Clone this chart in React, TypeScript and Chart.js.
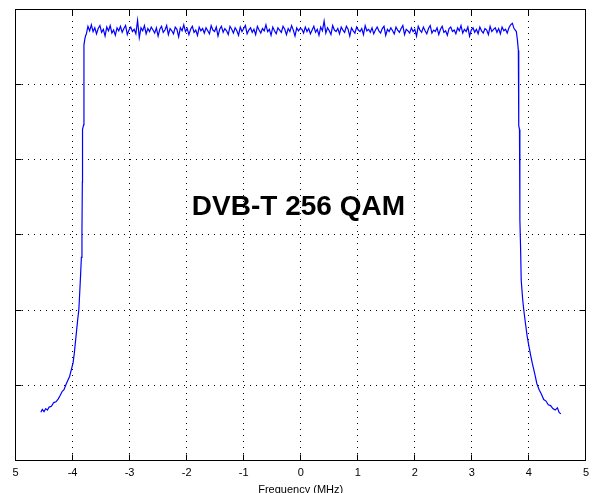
import React, { useEffect, useRef } from "react";
import { Chart, registerables } from "chart.js";

Chart.register(...registerables);

// Tick values / labels
const xTickValues = [-5, -4, -3, -2, -1, 0, 1, 2, 3, 4, 5];
const xTickLabels = ["5", "-4", "-3", "-2", "-1", "0", "1", "2", "3", "4", "5"];
const yTickValues = [-60, -50, -40, -30, -20, -10, 0];
const xAxisTitle = "Frequency (MHz)";
const annotationText = "DVB-T 256 QAM";
const annotationFreq = -0.04;
const annotationLevel = -26.3;

// Lower band edge (MHz, dB)
const leftEdgeFreq = [
  -4.555, -4.53, -4.5, -4.47, -4.44, -4.41, -4.37, -4.33, -4.29, -4.25, -4.22, -4.18, -4.15,
  -4.12, -4.08, -4.05, -4.02, -3.99, -3.97, -3.95, -3.93, -3.91, -3.89, -3.875, -3.86, -3.845,
  -3.835, -3.828, -3.825, -3.805, -3.8, -3.785, -3.77,
];
const leftEdgeLevel = [
  -53.6, -53.2, -53.5, -53.1, -53.3, -52.9, -52.8, -52.3, -52.2, -51.8, -51.4, -50.8, -50.6,
  -50.0, -49.3, -48.8, -47.9, -47.0, -45.8, -44.3, -42.8, -41.3, -40.0, -37.8, -35.5, -33.0,
  -29.5, -23.0, -16.0, -15.4, -4.8, -4.0, -3.5,
];

// Flat in-band part: sampled every 0.03 MHz from -3.76 MHz
const topStartFreq = -3.76;
const topStepFreq = 0.03;
const topLevel = [
  -3.4, -2.3, -2.9, -2.1, -3.0, -2.5, -3.3, -2.6, -2.2, -3.1,
  -2.7, -3.6, -2.4, -2.9, -2.2, -3.2, -2.8, -3.5, -2.5, -2.9,
  -2.3, -3.1, -2.6, -2.2, -3.4, -2.8, -2.4, -3.0, -2.7, -3.3,
  -1.5, -3.8, -2.5, -2.9, -2.2, -3.3, -2.6, -3.0, -2.4, -2.8,
  -3.2, -2.5, -3.6, -2.7, -2.3, -3.1, -2.8, -2.2, -3.4, -2.6,
  -2.9, -3.3, -2.4, -2.7, -3.7, -2.5, -2.9, -2.1, -3.0, -2.6,
  -3.4, -2.7, -2.3, -3.1, -2.8, -3.5, -2.4, -2.9, -2.6, -3.2,
  -2.5, -2.9, -3.3, -2.2, -2.8, -3.0, -2.4, -3.6, -2.7, -2.3,
  -3.1, -2.6, -2.9, -3.4, -2.3, -2.7, -3.2, -2.5, -2.9, -3.5,
  -2.4, -3.0, -2.6, -2.2, -3.3, -2.8, -2.5, -3.1, -2.7, -3.4,
  -2.3, -2.8, -3.2, -2.6, -2.9, -2.1, -3.0, -2.7, -3.5, -2.4,
  -2.9, -3.3, -2.5, -2.8, -3.1, -2.3, -2.7, -3.4, -2.6, -3.0,
  -2.2, -2.8, -3.6, -2.5, -2.9, -2.6, -2.7, -3.2, -2.4, -3.0,
  -2.6, -3.3, -2.8, -2.3, -3.1, -2.7, -3.5, -2.4, -2.9, -1.6,
  -3.2, -2.5, -2.9, -3.4, -2.2, -2.8, -3.0, -2.6, -3.3, -2.4,
  -2.8, -3.1, -2.3, -2.7, -3.6, -2.5, -2.9, -3.2, -2.4, -2.8,
  -3.0, -2.6, -3.4, -2.2, -2.9, -2.7, -3.1, -2.5, -3.3, -2.8,
  -2.4, -2.9, -3.2, -2.6, -2.3, -3.5, -2.7, -3.0, -2.5, -2.9,
  -3.3, -2.4, -2.8, -3.1, -2.6, -2.2, -3.4, -2.7, -2.9, -3.2,
  -2.5, -3.0, -2.7, -3.6, -2.3, -2.8, -3.1, -2.4, -2.9, -3.3,
  -2.6, -2.2, -3.2, -2.8, -3.0, -2.5, -3.4, -2.7, -2.3, -3.1,
  -2.9, -3.5, -2.6, -2.4, -3.0, -2.8, -3.3, -2.5, -2.9, -2.2,
  -3.2, -2.7, -3.0, -2.4, -3.6, -2.8, -2.5, -3.1, -2.7, -3.3,
  -2.4, -2.9, -3.2, -2.6, -2.8, -3.4, -2.3, -3.0, -2.7, -2.5,
  -3.1, -2.6, -3.3, -2.4, -2.9, -2.7, -3.2, -2.5, -2.1, -1.9,
  -2.6,
];

// Upper band edge (MHz, dB)
const rightEdgeFreq = [
  3.78, 3.8, 3.815, 3.822, 3.835, 3.842, 3.855, 3.865, 3.89, 3.91, 3.94, 3.97, 4.0, 4.03,
  4.06, 4.1, 4.14, 4.18, 4.22, 4.26, 4.3, 4.34, 4.38, 4.42, 4.46, 4.5, 4.53, 4.56,
];
const rightEdgeLevel = [
  -3.0, -4.2, -5.5, -15.5, -16.0, -28.0, -32.0, -36.0, -38.5, -40.0, -41.8, -43.5, -44.8, -46.0,
  -47.1, -48.4, -49.8, -50.6, -51.2, -51.9, -52.1, -52.6, -52.7, -53.1, -53.3, -53.0, -53.6, -53.8,
];

const alignPx = (p: number) => Math.round(p - 0.5) + 0.5;

const framePlugin = {
  id: "matlabFrame",
  afterDatasetsDraw(chart: any) {
    const { ctx, chartArea, scales } = chart;
    const { left, right, top, bottom } = chartArea;
    const x = scales.x;
    const y = scales.y;
    const L = alignPx(left);
    const R = alignPx(right);
    const T = alignPx(top);
    const B = alignPx(bottom);
    ctx.save();
    ctx.strokeStyle = "#000";
    ctx.lineWidth = 1;
    ctx.setLineDash([]);
    ctx.beginPath();
    for (const v of xTickValues) {
      const px = alignPx(x.getPixelForValue(v));
      ctx.moveTo(px, B);
      ctx.lineTo(px, B - 6);
      ctx.moveTo(px, T);
      ctx.lineTo(px, T + 6);
    }
    for (const v of yTickValues) {
      const py = alignPx(y.getPixelForValue(v));
      ctx.moveTo(L, py);
      ctx.lineTo(L + 6, py);
      ctx.moveTo(R, py);
      ctx.lineTo(R - 6, py);
    }
    ctx.stroke();
    ctx.strokeRect(L, T, R - L, B - T);

    ctx.fillStyle = "#000";
    ctx.font = "bold 28px 'Liberation Sans', Arial, sans-serif";
    ctx.textAlign = "center";
    ctx.textBaseline = "middle";
    ctx.fillText(
      annotationText,
      x.getPixelForValue(annotationFreq),
      y.getPixelForValue(annotationLevel)
    );
    ctx.restore();
  },
};

export default function App() {
  const canvasRef = useRef<HTMLCanvasElement | null>(null);

  useEffect(() => {
    const canvas = canvasRef.current;
    if (!canvas) return;

    const points: { x: number; y: number }[] = [];
    leftEdgeFreq.forEach((f, i) => points.push({ x: f, y: leftEdgeLevel[i] }));
    topLevel.forEach((v, i) => points.push({ x: topStartFreq + i * topStepFreq, y: v }));
    rightEdgeFreq.forEach((f, i) => points.push({ x: f, y: rightEdgeLevel[i] }));

    const font = { family: "'Liberation Sans', Arial, sans-serif", size: 11 };

    const chart = new Chart(canvas, {
      type: "line",
      data: {
        datasets: [
          {
            data: points,
            borderColor: "#0000ff",
            borderWidth: 1.2,
            pointRadius: 0,
            tension: 0,
            fill: false,
          },
        ],
      },
      options: {
        animation: false,
        responsive: false,
        devicePixelRatio: 1,
        layout: { padding: { top: 9, right: 6, left: 0, bottom: 0 } },
        plugins: {
          legend: { display: false },
          tooltip: { enabled: false },
        },
        scales: {
          x: {
            type: "linear",
            min: -5,
            max: 5,
            afterBuildTicks: (scale: any) => {
              scale.ticks = xTickValues.map((v) => ({ value: v }));
            },
            afterFit: (scale: any) => {
              scale.height = 32.5;
            },
            ticks: {
              autoSkip: false,
              maxRotation: 0,
              padding: 6,
              color: "#000",
              font,
              callback: (_v: any, index: number) => xTickLabels[index],
            },
            grid: {
              color: "#000",
              lineWidth: 1,
              drawTicks: false,
            },
            border: { display: false, dash: [1, 5] },
            title: {
              display: true,
              text: xAxisTitle,
              color: "#000",
              font: { ...font, lineHeight: 0.5 },
              padding: 0,
            },
          },
          y: {
            type: "linear",
            min: -60,
            max: 0,
            afterBuildTicks: (scale: any) => {
              scale.ticks = yTickValues.map((v) => ({ value: v }));
            },
            afterFit: (scale: any) => {
              scale.width = 15.5;
            },
            ticks: { display: false },
            grid: {
              color: "#000",
              lineWidth: 1,
              drawTicks: false,
            },
            border: { display: false, dash: [1, 5] },
          },
        },
      },
      plugins: [framePlugin],
    } as any);

    return () => {
      chart.destroy();
    };
  }, []);

  return (
    <div
      style={{
        position: "fixed",
        left: 0,
        top: 0,
        width: 595,
        height: 493,
        overflow: "hidden",
        background: "#fff",
      }}
    >
      <canvas ref={canvasRef} width={595} height={493} style={{ display: "block" }} />
    </div>
  );
}
